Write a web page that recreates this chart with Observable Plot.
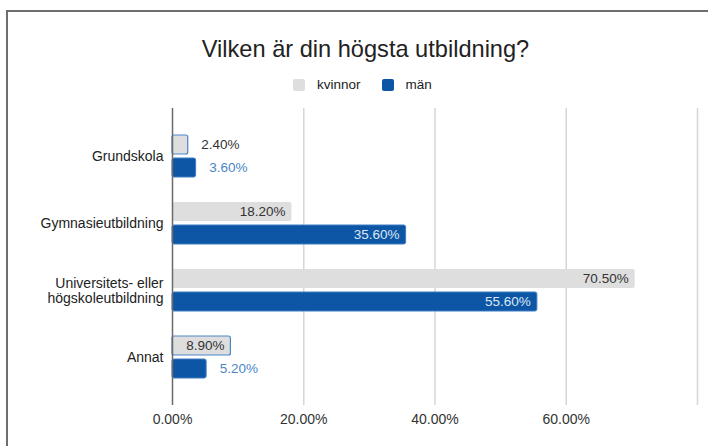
<!DOCTYPE html>
<html><head><meta charset="utf-8">
<script src="https://cdn.jsdelivr.net/npm/d3@7"></script>
<script src="https://cdn.jsdelivr.net/npm/@observablehq/plot@0.6"></script>
<style>
body{margin:0;background:#fff;font-family:"Liberation Sans",Arial,sans-serif;}
#wrap{position:relative;width:708px;height:446px;overflow:hidden;background:#fff;}
#frame{position:absolute;left:6px;top:10px;width:760px;height:500px;border-left:2px solid #6e6e6e;border-top:2px solid #6e6e6e;}
#title{position:absolute;left:0;width:731px;top:34px;text-align:center;font-size:23.6px;line-height:30px;color:#222;}
#legend{position:absolute;left:293px;top:77px;display:flex;align-items:center;font-size:13.5px;color:#222;line-height:16px;}
#legend .sw{width:12px;height:12px;border-radius:2px;display:inline-block;margin-right:12px;}
#legend .item{display:flex;align-items:center;margin-right:21px;}
#chart{position:absolute;left:0;top:100px;}
</style>
</head><body>
<div id="wrap">
  <div id="frame"></div>
  <div id="title">Vilken är din högsta utbildning?</div>
  <div id="legend"></div>
  <div id="chart"></div>
</div>
<script>
const categories = ["Grundskola", "Gymnasieutbildning", "Universitets- eller högskoleutbildning", "Annat"];
const series = ["kvinnor", "män"];
const kvinnor = [2.4, 18.2, 70.5, 8.9];
const man = [3.6, 35.6, 55.6, 5.2];
const xTickValues = [0, 20, 40, 60];
const gridValues = [20, 40, 60, 80];
const colors = ["#dedede", "#0d56a5"];

const legend = document.getElementById("legend");
series.forEach((s, i) => {
  const it = document.createElement("div");
  it.className = "item";
  it.innerHTML = `<span class="sw" style="background:${colors[i]}"></span><span>${s}</span>`;
  legend.appendChild(it);
});

const K = categories.map((c, i) => ({category: c, series: "kvinnor", value: kvinnor[i]}));
const M = categories.map((c, i) => ({category: c, series: "män", value: man[i]}));
const fmt = v => v.toFixed(2) + "%";
const inside = d => d.value >= 7;
const outside = d => d.value < 7;
const small = d => d.value < 10;
const large = d => d.value >= 10;
const font = '"Liberation Sans", Arial, sans-serif';

const chart = Plot.plot({
  width: 708,
  height: 346,
  marginTop: 8,
  marginBottom: 41,
  marginLeft: 172,
  marginRight: 11,
  style: {fontFamily: font, fontSize: "13px", color: "#222", background: "transparent"},
  x: {domain: [0, 80], label: null},
  y: {domain: categories, padding: 0.368, label: null},
  marks: [
    Plot.gridX(gridValues, {stroke: "#d6d6d6", strokeOpacity: 1, strokeWidth: 1.5}),
    Plot.barX(K.filter(large), {x: "value", y: "category", fill: colors[0], insetBottom: 23, rx: 2}),
    Plot.barX(K.filter(small), {x: "value", y: "category", fill: colors[0], insetBottom: 23, rx: 2, stroke: "#4a86c8", strokeWidth: 1.2}),
    Plot.barX(M, {x: "value", y: "category", fill: colors[1], insetTop: 23, rx: 2, stroke: "#3f7cc4", strokeWidth: 1}),
    Plot.ruleX([0], {stroke: "#6a6a6a", strokeWidth: 1.5}),
    Plot.text(K.filter(inside), {x: "value", y: "category", text: d => fmt(d.value), textAnchor: "end", dx: -6.5, dy: -11.5, fill: "#333", fontSize: 13.5}),
    Plot.text(K.filter(outside), {x: "value", y: "category", text: d => fmt(d.value), textAnchor: "start", dx: 13, dy: -11.5, fill: "#333", fontSize: 13.5}),
    Plot.text(M.filter(inside), {x: "value", y: "category", text: d => fmt(d.value), textAnchor: "end", dx: -6.5, dy: 11.5, fill: "#dce6f3", fontSize: 13.5}),
    Plot.text(M.filter(outside), {x: "value", y: "category", text: d => fmt(d.value), textAnchor: "start", dx: 13, dy: 11.5, fill: "#4a86c8", fontSize: 13.5}),
    Plot.axisY({tickSize: 0, tickPadding: 9, tickFormat: d => d.replace("eller ", "eller\n"), fontSize: 14, lineHeight: 1.1, fill: "#222", label: null}),
    Plot.axisX(xTickValues, {tickSize: 0, tickPadding: 9, tickFormat: fmt, fontSize: 14, fill: "#333", label: null})
  ]
});
document.getElementById("chart").appendChild(chart);
</script>
</body></html>
